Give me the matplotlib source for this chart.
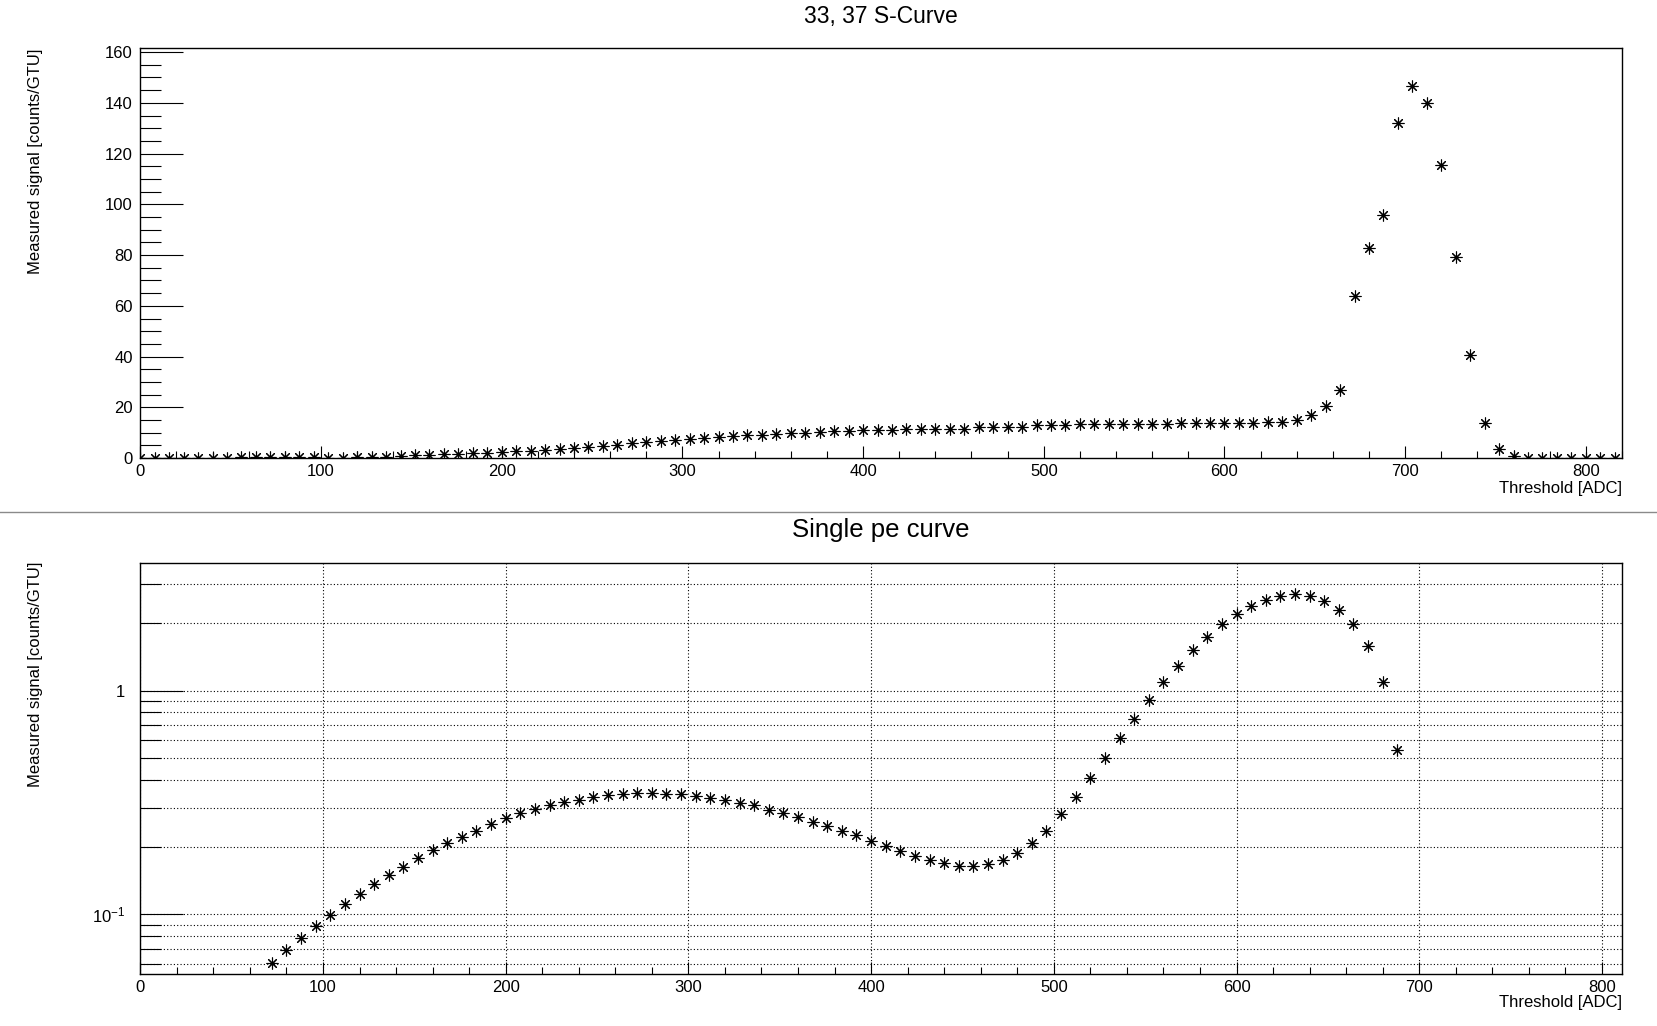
import matplotlib
matplotlib.use("Agg")
import matplotlib.pyplot as plt
from matplotlib.ticker import MultipleLocator, FixedLocator, NullFormatter, FixedFormatter
from matplotlib.lines import Line2D

plt.rcParams['font.family'] = ['Liberation Sans', 'DejaVu Sans']
plt.rcParams['mathtext.fontset'] = 'custom'
plt.rcParams['mathtext.rm'] = 'Liberation Sans'
plt.rcParams['mathtext.it'] = 'Liberation Sans'
plt.rcParams['mathtext.default'] = 'regular'

# ---------------- data ----------------
top_title = "33, 37 S-Curve"
bottom_title = "Single pe curve"
x_label = "Threshold [ADC]"
y_label = "Measured signal [counts/GTU]"

top_threshold = [0, 8, 16, 24, 32, 40, 48, 56, 64, 72, 80, 88, 96, 104, 112, 120,
                 128, 136, 144, 152, 160, 168, 176, 184, 192, 200, 208, 216, 224,
                 232, 240, 248, 256, 264, 272, 280, 288, 296, 304, 312, 320, 328,
                 336, 344, 352, 360, 368, 376, 384, 392, 400, 408, 416, 424, 432,
                 440, 448, 456, 464, 472, 480, 488, 496, 504, 512, 520, 528, 536,
                 544, 552, 560, 568, 576, 584, 592, 600, 608, 616, 624, 632, 640,
                 648, 656, 664, 672, 680, 688, 696, 704, 712, 720, 728, 736, 744,
                 752, 760, 768, 776, 784, 792, 800, 808, 816]
top_signal = [0, 0, 0, 0, 0, 0, 0, 0.3, 0.3, 0.4, 0.4, 0.4, 0.5, 0, 0, 0.6,
              0.6, 0.6, 0.8, 1.3, 1.3, 1.6, 1.6, 1.9, 2.0, 2.4, 2.7, 2.7, 3.0,
              3.5, 3.9, 4.3, 4.6, 5.2, 5.9, 6.3, 6.8, 7.1, 7.6, 7.9, 8.4, 8.8,
              9.2, 9.2, 9.6, 9.8, 9.8, 10.2, 10.5, 10.5, 10.9, 11.2, 11.2, 11.4, 11.4,
              11.5, 11.5, 11.5, 12.2, 12.2, 12.2, 12.2, 12.9, 12.9, 12.9, 13.3, 13.3, 13.3,
              13.3, 13.5, 13.5, 13.5, 13.8, 13.8, 13.8, 13.8, 13.8, 14.0, 14.1, 14.4, 15.2,
              16.8, 20.4, 27.0, 63.7, 82.6, 95.6, 132.2, 146.8, 140.1, 115.3, 79.4, 40.5, 14.0,
              3.5, 0.75, 0, 0, 0, 0, 0, 0, 0]

pe_threshold = [72, 80, 88, 96, 104, 112, 120, 128, 136, 144, 152, 160, 168, 176,
                184, 192, 200, 208, 216, 224, 232, 240, 248, 256, 264, 272, 280,
                288, 296, 304, 312, 320, 328, 336, 344, 352, 360, 368, 376, 384,
                392, 400, 408, 416, 424, 432, 440, 448, 456, 464, 472, 480, 488,
                496, 504, 512, 520, 528, 536, 544, 552, 560, 568, 576, 584, 592,
                600, 608, 616, 624, 632, 640, 648, 656, 664, 672, 680, 688]
pe_signal = [0.0603, 0.069, 0.078, 0.0886, 0.0989, 0.1108, 0.1228, 0.136, 0.1493,
             0.1632, 0.178, 0.193, 0.2076, 0.2223, 0.2365, 0.2525, 0.2685, 0.2827,
             0.2946, 0.307, 0.3166, 0.3254, 0.3334, 0.3403, 0.345, 0.3474, 0.3474,
             0.3438, 0.345, 0.338, 0.33, 0.3232, 0.3155, 0.307, 0.2936, 0.2827,
             0.2714, 0.2595, 0.2482, 0.2365, 0.2254, 0.212, 0.2013, 0.1911, 0.1828,
             0.1743, 0.169, 0.1649, 0.1649, 0.1672, 0.1743, 0.1873, 0.2083, 0.2365,
             0.2803, 0.3334, 0.4055, 0.499, 0.612, 0.7445, 0.905, 1.090, 1.285,
             1.52, 1.732, 1.98, 2.203, 2.391, 2.544, 2.66, 2.706, 2.651, 2.509,
             2.287, 1.987, 1.584, 1.093, 0.543]

log_major = [0.1, 1]
log_major_labels = [r'$10^{-1}$', '1']
log_minor = [0.06, 0.07, 0.08, 0.09, 0.2, 0.3, 0.4, 0.5, 0.6, 0.7, 0.8, 0.9, 2, 3]

# ---------------- figure ----------------
W, H = 1658, 1026
fig = plt.figure(figsize=(W / 100, H / 100), dpi=100)

def fx(px):
    return px / W

def fy(py):
    return 1 - py / H

left_px, right_px = 140.3, 1622
ax1 = fig.add_axes([fx(left_px), fy(458.1), fx(right_px - left_px), (458.1 - 48.3) / H])
ax2 = fig.add_axes([fx(left_px), fy(974.3), fx(right_px - left_px), (974.3 - 563.3) / H])

marker = (8, 2, 0)
mstyle = dict(linestyle='none', marker=marker, markersize=8.5, markeredgewidth=0.8,
              color='black', clip_on=True)

# top panel
ax1.plot(top_threshold, top_signal, **mstyle)
ax1.set_xlim(0, 820)
ax1.set_ylim(0, 1.1 * max(top_signal))
ax1.xaxis.set_major_locator(MultipleLocator(100))
ax1.xaxis.set_minor_locator(MultipleLocator(20))
ax1.yaxis.set_major_locator(MultipleLocator(20))
ax1.yaxis.set_minor_locator(MultipleLocator(5))
ax1.tick_params(axis='y', which='major', direction='in', length=31, width=0.8,
                labelsize=12, pad=5.5, right=False)
ax1.tick_params(axis='y', which='minor', direction='in', length=15, width=0.8, right=False)
ax1.tick_params(axis='x', which='major', direction='in', length=8.6, width=0.8,
                labelsize=12, pad=4, top=False)
ax1.tick_params(axis='x', which='minor', direction='in', length=4.7, width=0.8, top=False)

# bottom panel
ax2.plot(pe_threshold, pe_signal, **mstyle)
ax2.set_yscale('log')
ax2.set_xlim(0, 811)
ax2.set_ylim(0.0539, 3.713)
ax2.xaxis.set_major_locator(MultipleLocator(100))
ax2.xaxis.set_minor_locator(MultipleLocator(20))
ax2.yaxis.set_major_locator(FixedLocator(log_major))
ax2.yaxis.set_major_formatter(FixedFormatter(log_major_labels))
ax2.yaxis.set_minor_locator(FixedLocator(log_minor))
ax2.yaxis.set_minor_formatter(NullFormatter())
ax2.tick_params(axis='y', which='major', direction='in', length=31, width=0.8,
                labelsize=12, pad=11, right=False)
ax2.tick_params(axis='y', which='minor', direction='in', length=15, width=0.8, right=False)
ax2.tick_params(axis='x', which='major', direction='in', length=8.6, width=0.8,
                labelsize=12, pad=4, top=False)
ax2.tick_params(axis='x', which='minor', direction='in', length=4.7, width=0.8, top=False)
ax2.grid(True, which='major', axis='x', color='black', linestyle=(0, (1, 2)), linewidth=0.8)
ax2.grid(True, which='both', axis='y', color='black', linestyle=(0, (1, 2)), linewidth=0.8)
ax2.set_axisbelow(True)

for ax in (ax1, ax2):
    for s in ax.spines.values():
        s.set_linewidth(1.0)
        s.set_color('black')

# titles and labels
cx = fx((left_px + right_px) / 2)
fig.text(cx, fy(16.5), top_title, ha='center', va='center', fontsize=16.5)
fig.text(cx, fy(529.5), bottom_title, ha='center', va='center', fontsize=18.5)
fig.text(fx(right_px), fy(488), x_label, ha='right', va='center', fontsize=12)
fig.text(fx(right_px), fy(1002), x_label, ha='right', va='center', fontsize=12)
fig.text(fx(36), fy(48.3), y_label, ha='center', va='top', rotation=90, fontsize=12)
fig.text(fx(36), fy(562), y_label, ha='center', va='top', rotation=90, fontsize=12)

# pad separator
fig.add_artist(Line2D([0, 1], [fy(511.7), fy(511.7)], transform=fig.transFigure,
                      color='#8a8a8a', linewidth=1.0))

fig.savefig('out.png', dpi=100)
